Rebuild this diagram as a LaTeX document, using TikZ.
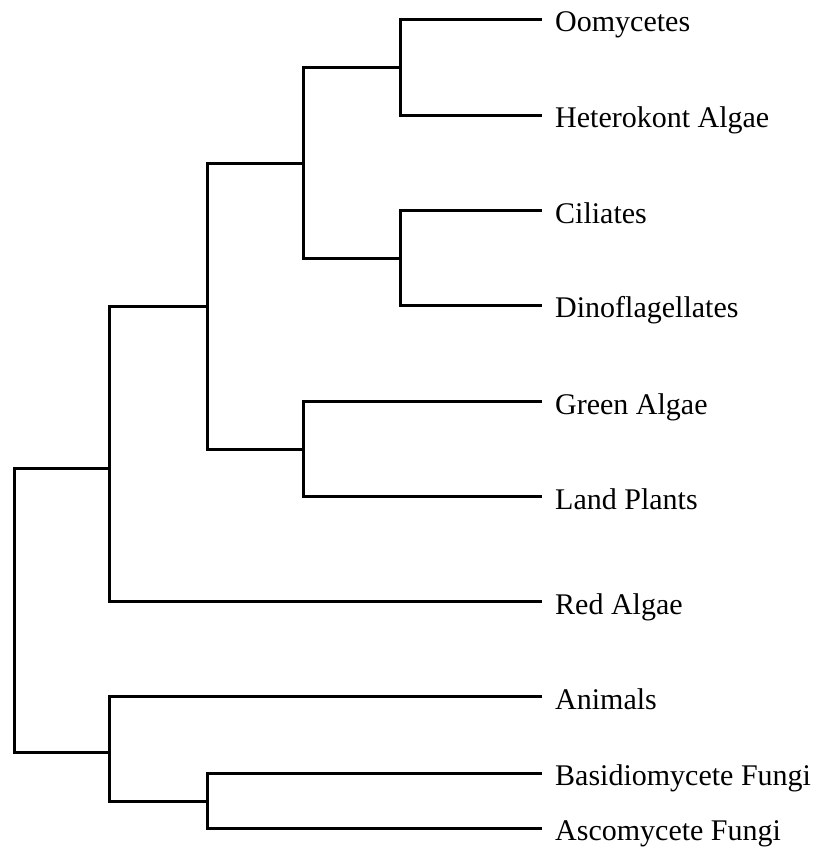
\documentclass[tikz,border=0pt]{standalone}
\usepackage{fontspec}
\setmainfont{Liberation Serif}
\begin{document}
\begin{tikzpicture}[x=1pt,y=-1pt,
  branch/.style={line width=3pt,line join=miter,line cap=butt},
  taxon/.style={anchor=base west,inner sep=0pt,font=\fontsize{30}{36}\selectfont}]
\useasboundingbox (0,0) rectangle (817,849);
% leaf ends
\def\lx{542}
\def\tx{555}
\foreach \n/\y in {oom/19.5,het/115.5,cil/210.5,din/305.5,gre/401.5,lan/496.5,red/601.5,ani/696.5,bas/773.5,asc/828.5}{
  \coordinate (\n) at (\lx,\y);
}
\node[taxon] (Loom) at (\tx,31.7) {Oomycetes};
\node[taxon] (Lhet) at (\tx,127.4) {Heterokont Algae};
\node[taxon] (Lcil) at (\tx,223.1) {Ciliates};
\node[taxon] (Ldin) at (\tx,317.7) {Dinoflagellates};
\node[taxon] (Lgre) at (\tx,414.1) {Green Algae};
\node[taxon] (Llan) at (\tx,509.1) {Land Plants};
\node[taxon] (Lred) at (\tx,614.1) {Red Algae};
\node[taxon] (Lani) at (\tx,709.1) {Animals};
\node[taxon] (Lbas) at (\tx,785.7) {Basidiomycete Fungi};
\node[taxon] (Lasc) at (\tx,840.7) {Ascomycete Fungi};
% internal nodes
\coordinate (p1) at (400.5,67.5);
\coordinate (p2) at (400.5,258.5);
\coordinate (p3) at (303.5,163.5);
\coordinate (p4) at (303.5,449.5);
\coordinate (p5) at (207.5,306.5);
\coordinate (p6) at (109.5,468.5);
\coordinate (p7) at (207.5,801.5);
\coordinate (p8) at (109.5,752.5);
\coordinate (root) at (14.5,610.5);
% branches
\draw[branch] (oom) -| (p1) |- (het);
\draw[branch] (cil) -| (p2) |- (din);
\draw[branch] (p1) -| (p3) |- (p2);
\draw[branch] (gre) -| (p4) |- (lan);
\draw[branch] (p3) -| (p5) |- (p4);
\draw[branch] (p5) -| (p6) |- (red);
\draw[branch] (bas) -| (p7) |- (asc);
\draw[branch] (ani) -| (p8) |- (p7);
\draw[branch] (p6) -| (root) |- (p8);
\end{tikzpicture}
\end{document}
